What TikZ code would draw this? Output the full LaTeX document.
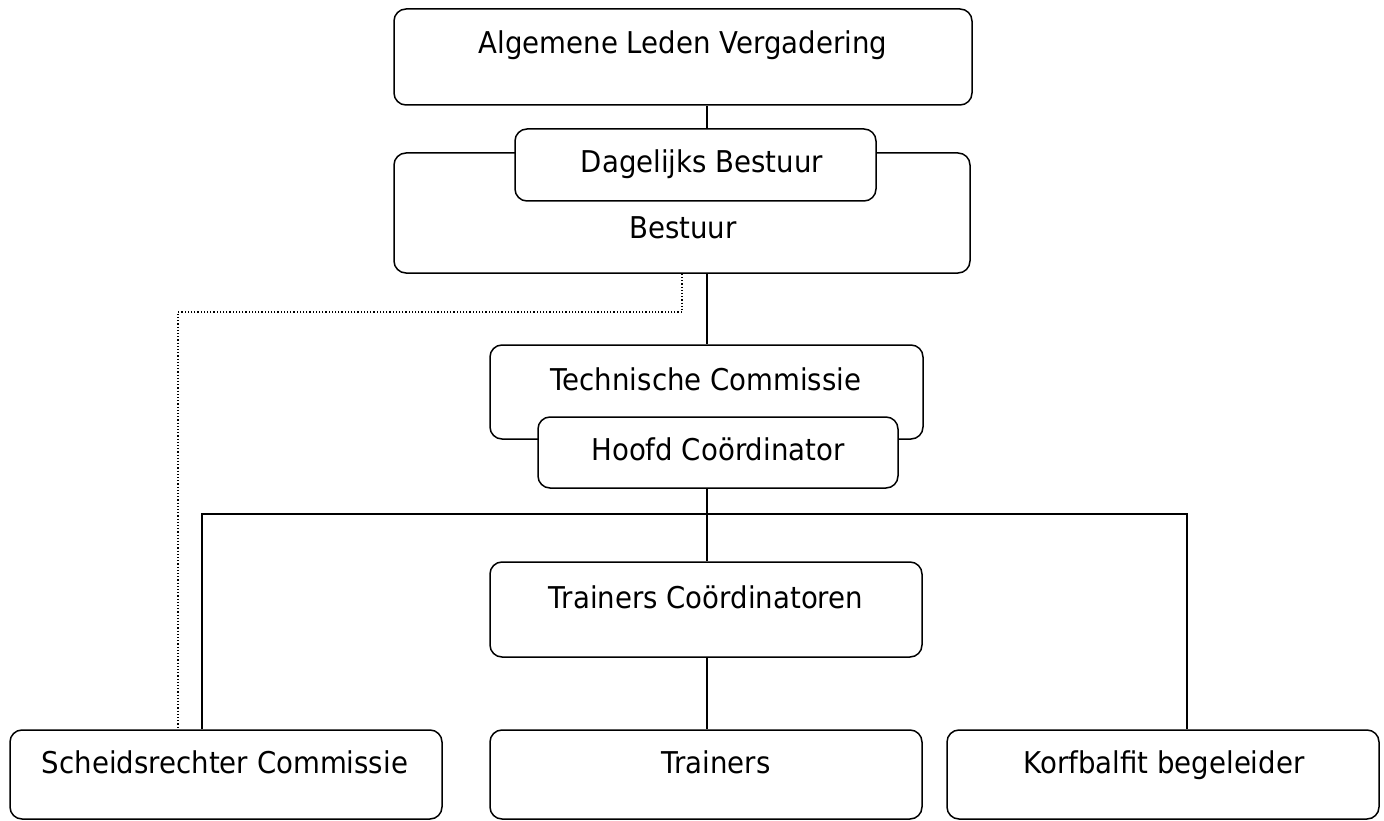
\documentclass[tikz,border=0pt]{standalone}
\usepackage{fontspec}
\setmainfont{DejaVu Sans}[FakeStretch=0.92]
\begin{document}
\begin{tikzpicture}[x=1pt,y=-1pt,
  box/.style={draw=black, line width=1.5pt, rounded corners=12pt, fill=white, inner sep=0pt},
  lbl/.style={anchor=base, inner sep=0pt, font=\fontsize{30}{35}\selectfont},
  conn/.style={draw=black, line width=1.3pt},
  dots/.style={draw=black, line width=1.2pt, dotted}]
\useasboundingbox (0,0) rectangle (1384,821);
\coordinate (spine) at (707,0);
% boxes
\node[box, minimum width=578pt, minimum height=96pt] (alv) at (683,57) {};
\node[box, minimum width=576pt, minimum height=120pt] (best) at (682,213) {};
\node[box, minimum width=361pt, minimum height=72pt] (db) at (695.5,165) {};
\node[box, minimum width=433pt, minimum height=94pt] (tc) at (706.5,392) {};
\node[box, minimum width=360pt, minimum height=71pt] (hc) at (718,452.5) {};
\node[box, minimum width=432pt, minimum height=95pt] (trc) at (706,609.5) {};
\node[box, minimum width=432pt, minimum height=89pt] (sc) at (226,774.5) {};
\node[box, minimum width=432pt, minimum height=89pt] (tr) at (706,774.5) {};
\node[box, minimum width=432pt, minimum height=89pt] (kb) at (1163,774.5) {};
% labels
\node[lbl] (alvT) at (683,54) {Algemene Leden Vergadering};
\node[lbl] (dbT) at (702,173) {Dagelijks Bestuur};
\node[lbl] (bestT) at (683,238) {Bestuur};
\node[lbl] (tcT) at (706,390) {Technische Commissie};
\node[lbl] (hcT) at (718,460) {Hoofd Coördinator};
\node[lbl] (trcT) at (706,608) {Trainers Coördinatoren};
\node[lbl] (scT) at (225,773) {Scheidsrechter Commissie};
\node[lbl] (trT) at (716,773) {Trainers};
\node[lbl] (kbT) at (1164,773) {Korfbalfit begeleider};
% connectors
\coordinate (busY) at (0,514);
\coordinate (scX) at (202,0);
\coordinate (kbX) at (1187,0);
\draw[conn] (alv.south -| spine) -- (db.north -| spine);
\draw[conn] (best.south -| spine) -- (tc.north -| spine);
\draw[conn] (hc.south -| spine) -- (trc.north -| spine);
\draw[conn] (scX |- sc.north) -- (scX |- busY) -- (kbX |- busY) -- (kbX |- kb.north);
\draw[conn] (trc.south -| spine) -- (tr.north -| spine);
\coordinate (dotX) at (682,0);
\coordinate (dotY) at (0,312);
\coordinate (dotL) at (178,0);
\draw[dots] (best.south -| dotX) -- (dotX |- dotY) -- (dotL |- dotY) -- (dotL |- sc.north);
\end{tikzpicture}
\end{document}
